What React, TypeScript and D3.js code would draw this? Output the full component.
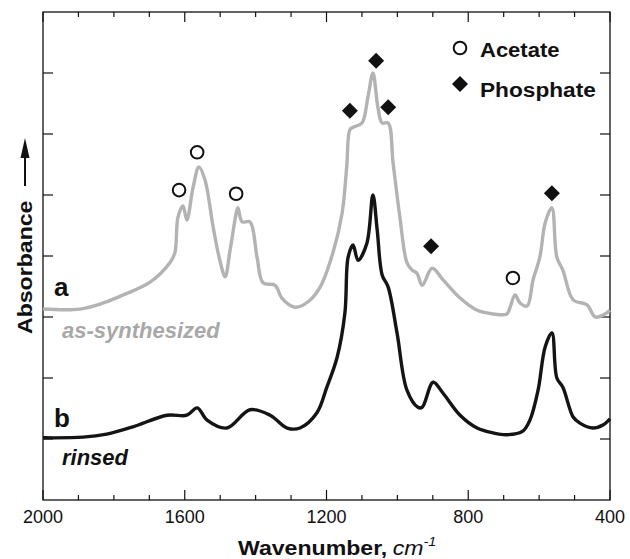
import * as d3 from 'd3';

// spectra: [wavenumber, absorbance (arb. units)]
const synthesized: [number, number][] = [
  [2000, 3.13], [1896, 3.13], [1830, 3.23], [1774, 3.36], [1698, 3.57], [1642, 3.89],
  [1628, 4.05], [1619, 4.64], [1605, 4.82], [1594, 4.59], [1577, 5.11], [1560, 5.46],
  [1543, 5.25], [1520, 4.48], [1501, 3.93], [1486, 3.66], [1472, 4.10], [1453, 4.75],
  [1450, 4.79], [1438, 4.56], [1416, 4.56], [1396, 3.98], [1379, 3.56], [1345, 3.52],
  [1326, 3.31], [1289, 3.16], [1252, 3.25], [1218, 3.49], [1182, 4.05], [1156, 4.70],
  [1143, 5.46], [1134, 6.07], [1125, 6.11], [1100, 6.18], [1083, 6.61], [1069, 7.0],
  [1055, 6.44], [1043, 6.18], [1026, 6.18], [1012, 5.52], [993, 4.64], [973, 3.89],
  [959, 3.77], [945, 3.72], [930, 3.52], [902, 3.80], [871, 3.61], [823, 3.31],
  [775, 3.11], [730, 3.05], [691, 3.05], [682, 3.16], [668, 3.36], [654, 3.23],
  [634, 3.18], [617, 3.61], [598, 3.98], [583, 4.54], [564, 4.79], [550, 3.98],
  [533, 3.77], [504, 3.28], [465, 3.20], [442, 3.0], [420, 3.03], [400, 3.11],
];

const rinsed: [number, number][] = [
  [2000, 1.02], [1887, 1.03], [1820, 1.08], [1746, 1.20], [1650, 1.39], [1594, 1.39],
  [1565, 1.51], [1537, 1.31], [1481, 1.18], [1416, 1.48], [1359, 1.39], [1311, 1.18],
  [1275, 1.18], [1227, 1.43], [1199, 1.85], [1170, 2.34], [1148, 3.07], [1139, 3.98],
  [1125, 4.18], [1111, 3.93], [1086, 4.21], [1069, 5.0], [1057, 4.43], [1043, 3.69],
  [1026, 3.49], [1001, 2.74], [973, 1.80], [942, 1.52], [930, 1.52], [899, 1.93],
  [871, 1.75], [823, 1.39], [775, 1.18], [730, 1.10], [691, 1.07], [646, 1.13],
  [626, 1.31], [603, 1.80], [583, 2.51], [564, 2.74], [550, 2.0], [533, 1.85],
  [504, 1.36], [485, 1.26], [448, 1.18], [420, 1.23], [400, 1.33],
];

const acetateWn = [1616, 1565, 1455, 674];
const acetateAbs = [5.08, 5.7, 5.02, 3.64];
const phosphateWn = [1134, 1060, 1026, 905, 564];
const phosphateAbs = [6.38, 7.2, 6.44, 4.16, 5.03];

const majorTicks = [2000, 1600, 1200, 800, 400];
const minorTicks = d3.range(2000, 399, -100);
const yTicks = [1, 2, 3, 4, 5, 6, 7];

const W = 630;
const H = 559;
const left = 43, right = 610, top = 12, bottom = 500;

export default function App() {
  const x = d3.scaleLinear().domain([2000, 400]).range([left, right]);
  const y = d3.scaleLinear().domain([0, 8]).range([bottom, top]);
  const line = d3.line<[number, number]>()
    .x(d => x(d[0]))
    .y(d => y(d[1]))
    .curve(d3.curveCatmullRom.alpha(0.5));

  const diamond = (cx: number, cy: number, r = 8) =>
    `M${cx},${cy - r}L${cx + r},${cy}L${cx},${cy + r}L${cx - r},${cy}Z`;

  const font = 'Liberation Sans, Arial, Helvetica, sans-serif';

  return (
    <svg width={W} height={H} style={{ position: 'absolute', left: 0, top: 0, background: '#fff' }}
      fontFamily={font}>
      {/* frame */}
      <rect x={left} y={top} width={right - left} height={bottom - top} fill="none" stroke="#111" strokeWidth={1.3} />

      {/* x ticks, bottom and top */}
      {minorTicks.map(t => {
        const len = majorTicks.includes(t) ? 10 : 5;
        return (
          <g key={t} stroke="#111" strokeWidth={1.2}>
            <line x1={x(t)} x2={x(t)} y1={bottom} y2={bottom - len} />
            <line x1={x(t)} x2={x(t)} y1={top} y2={top + len} />
          </g>
        );
      })}
      {majorTicks.map(t => (
        <text key={t} x={x(t)} y={523} fontSize={18} textAnchor="middle" fill="#111">{t}</text>
      ))}

      {/* y ticks, both sides */}
      {yTicks.map(t => (
        <g key={t} stroke="#111" strokeWidth={1.2}>
          <line x1={left} x2={left + 10} y1={y(t)} y2={y(t)} />
          <line x1={right} x2={right - 10} y1={y(t)} y2={y(t)} />
        </g>
      ))}

      {/* spectra */}
      <path d={line(synthesized) ?? ''} fill="none" stroke="#b3b3b3" strokeWidth={3.4} strokeLinejoin="round" />
      <path d={line(rinsed) ?? ''} fill="none" stroke="#141414" strokeWidth={3.4} strokeLinejoin="round" />

      {/* band markers */}
      {acetateWn.map((w, i) => (
        <circle key={w} cx={x(w)} cy={y(acetateAbs[i])} r={6.3} fill="#fff" stroke="#111" strokeWidth={2} />
      ))}
      {phosphateWn.map((w, i) => (
        <path key={w} d={diamond(x(w), y(phosphateAbs[i]))} fill="#111" />
      ))}

      {/* legend */}
      <circle cx={460} cy={48} r={6.3} fill="#fff" stroke="#111" strokeWidth={2} />
      <text transform="translate(480,57) scale(1.1,1)" fontSize={20} fontWeight="bold" fill="#111">Acetate</text>
      <path d={diamond(460, 84)} fill="#111" />
      <text transform="translate(480,97) scale(1.08,1)" fontSize={21} fontWeight="bold" fill="#111">Phosphate</text>

      {/* curve labels */}
      <text x={54} y={296} fontSize={26} fontWeight="bold" fill="#111">a</text>
      <text x={62} y={338} fontSize={22} fontWeight="bold" fontStyle="italic" fill="#a8a8a8">as-synthesized</text>
      <text x={54} y={427} fontSize={26} fontWeight="bold" fill="#111">b</text>
      <text x={62} y={465} fontSize={22} fontWeight="bold" fontStyle="italic" fill="#111">rinsed</text>

      {/* axis titles */}
      <text transform="translate(238,555) scale(1.1,1)" fontSize={21} fontWeight="bold" fill="#111">
        Wavenumber,
        <tspan fontWeight="normal" fontStyle="italic" dx={5}>cm</tspan>
        <tspan fontWeight="normal" fontStyle="italic" fontSize={13} dy={-9}>-1</tspan>
      </text>
      <text transform="translate(32,334) rotate(-90) scale(1.1,1)" fontSize={21} fontWeight="bold" fill="#111">Absorbance</text>
      <line x1={25} x2={25} y1={186} y2={152} stroke="#111" strokeWidth={2} />
      <path d="M25,138L29.5,158L20.5,158Z" fill="#111" />
    </svg>
  );
}
